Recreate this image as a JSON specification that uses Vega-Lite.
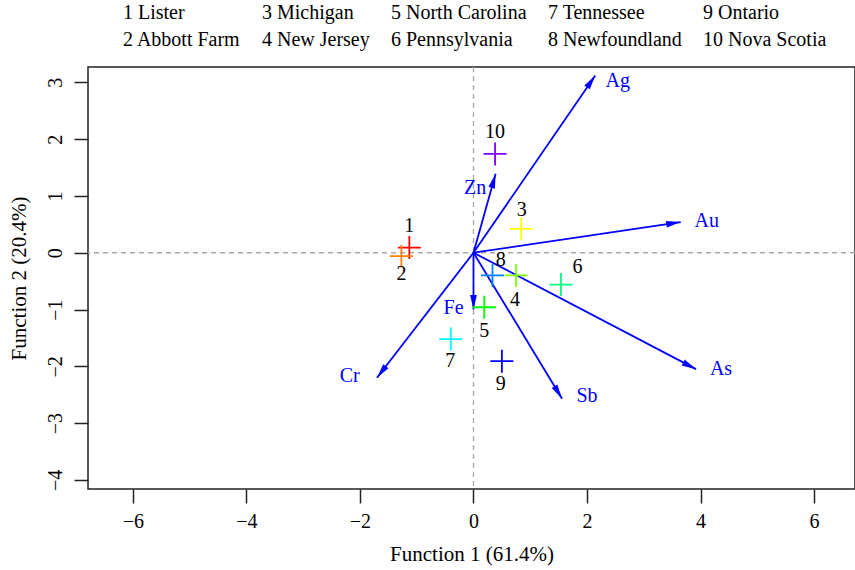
{
  "$schema": "https://vega.github.io/schema/vega-lite/v6.json",
  "width": 767,
  "height": 422,
  "autosize": {"type": "none"},
  "padding": {"left": 88, "top": 67, "right": 0, "bottom": 81},
  "background": "white",
  "config": {
    "view": {"stroke": "#222222", "strokeWidth": 1.5},
    "font": "Liberation Serif",
    "axis": {
      "domain": false, "grid": false,
      "tickColor": "#222222", "tickSize": 14, "tickWidth": 1.5,
      "labelFont": "Liberation Serif", "labelFontSize": 20, "labelColor": "black",
      "titleFont": "Liberation Serif", "titleFontSize": 21, "titleFontWeight": "normal", "titleColor": "black"
    }
  },
  "datasets": {
    "sites": [
      {"site": "1 Lister", "id": "1", "x": -1.13, "y": 0.09, "lx": -1.13, "ly": 0.47},
      {"site": "2 Abbott Farm", "id": "2", "x": -1.27, "y": -0.06, "lx": -1.27, "ly": -0.37},
      {"site": "3 Michigan", "id": "3", "x": 0.84, "y": 0.42, "lx": 0.85, "ly": 0.76},
      {"site": "4 New Jersey", "id": "4", "x": 0.75, "y": -0.40, "lx": 0.73, "ly": -0.83},
      {"site": "5 North Carolina", "id": "5", "x": 0.19, "y": -0.96, "lx": 0.19, "ly": -1.38},
      {"site": "6 Pennsylvania", "id": "6", "x": 1.54, "y": -0.56, "lx": 1.83, "ly": -0.245},
      {"site": "7 Tennessee", "id": "7", "x": -0.40, "y": -1.52, "lx": -0.41, "ly": -1.91},
      {"site": "8 Newfoundland", "id": "8", "x": 0.335, "y": -0.40, "lx": 0.48, "ly": -0.12},
      {"site": "9 Ontario", "id": "9", "x": 0.50, "y": -1.91, "lx": 0.48, "ly": -2.32},
      {"site": "10 Nova Scotia", "id": "10", "x": 0.38, "y": 1.74, "lx": 0.38, "ly": 2.13}
    ],
    "loadings": [
      {"el": "Ag", "x": 2.145, "y": 3.12, "lx": 2.54, "ly": 3.02},
      {"el": "Au", "x": 3.65, "y": 0.54, "lx": 4.11, "ly": 0.55},
      {"el": "As", "x": 3.92, "y": -2.05, "lx": 4.36, "ly": -2.05},
      {"el": "Sb", "x": 1.56, "y": -2.57, "lx": 2.0, "ly": -2.53},
      {"el": "Cr", "x": -1.70, "y": -2.20, "lx": -2.18, "ly": -2.17},
      {"el": "Fe", "x": 0.0, "y": -1.0, "lx": -0.35, "ly": -0.97},
      {"el": "Zn", "x": 0.39, "y": 1.39, "lx": 0.03, "ly": 1.14}
    ]
  },
  "layer": [
    {
      "data": {"values": [{}]},
      "mark": {"type": "rule", "color": "#a8a8a8", "strokeDash": [5, 4], "strokeWidth": 1.3},
      "encoding": {
        "y": {
          "datum": 0, "type": "quantitative",
          "scale": {"domain": [-4.16, 3.27], "nice": false, "zero": false},
          "axis": {"values": [-4, -3, -2, -1, 0, 1, 2, 3], "format": "d", "labelAngle": -90, "labelAlign": "center", "labelBaseline": "bottom", "labelPadding": 9, "titlePadding": 16},
          "title": "Function 2 (20.4%)"
        }
      }
    },
    {
      "data": {"values": [{}]},
      "mark": {"type": "rule", "color": "#a8a8a8", "strokeDash": [5, 4], "strokeWidth": 1.3},
      "encoding": {
        "x": {
          "datum": 0, "type": "quantitative",
          "scale": {"domain": [-6.79, 6.72], "nice": false, "zero": false},
          "axis": {"values": [-6, -4, -2, 0, 2, 4, 6], "format": "d", "labelPadding": 8, "titlePadding": 12},
          "title": "Function 1 (61.4%)"
        }
      }
    },
    {
      "data": {"name": "loadings"},
      "mark": {"type": "rule", "color": "#0000FF", "strokeWidth": 1.8},
      "encoding": {
        "x": {"field": "x", "type": "quantitative", "title": "Function 1 (61.4%)"},
        "y": {"field": "y", "type": "quantitative", "title": "Function 2 (20.4%)"},
        "x2": {"datum": 0},
        "y2": {"datum": 0}
      }
    },
    {
      "data": {"name": "loadings"},
      "transform": [{"calculate": "atan2(datum.x, datum.y) * 180 / PI", "as": "angle"}],
      "mark": {"type": "point", "shape": "M0,0L-0.23,1L0.23,1Z", "filled": true, "color": "#0000FF", "opacity": 1, "size": 841, "strokeWidth": 0},
      "encoding": {
        "x": {"field": "x", "type": "quantitative", "title": "Function 1 (61.4%)"},
        "y": {"field": "y", "type": "quantitative", "title": "Function 2 (20.4%)"},
        "angle": {"field": "angle", "type": "quantitative", "scale": null}
      }
    },
    {
      "data": {"name": "loadings"},
      "mark": {"type": "text", "color": "#0000FF", "fontSize": 20, "font": "Liberation Serif"},
      "encoding": {
        "x": {"field": "lx", "type": "quantitative", "title": "Function 1 (61.4%)"},
        "y": {"field": "ly", "type": "quantitative", "title": "Function 2 (20.4%)"},
        "text": {"field": "el"}
      }
    },
    {
      "data": {"name": "sites"},
      "mark": {"type": "point", "shape": "M-1,0L1,0M0,-1L0,1", "filled": false, "size": 529, "strokeWidth": 1.8, "opacity": 1},
      "encoding": {
        "x": {"field": "x", "type": "quantitative", "title": "Function 1 (61.4%)"},
        "y": {"field": "y", "type": "quantitative", "title": "Function 2 (20.4%)"},
        "color": {
          "field": "site", "type": "nominal",
          "scale": {
            "domain": ["1 Lister", "3 Michigan", "5 North Carolina", "7 Tennessee", "9 Ontario", "2 Abbott Farm", "4 New Jersey", "6 Pennsylvania", "8 Newfoundland", "10 Nova Scotia"],
            "range": ["#FF0000", "#FFFF00", "#00FF00", "#00FFFF", "#0000FF", "#FF8000", "#80FF00", "#00FF80", "#0080FF", "#8000FF"]
          },
          "legend": {
            "orient": "none", "legendX": 15, "legendY": -64,
            "direction": "horizontal", "columns": 5, "title": null,
            "symbolOpacity": 0, "symbolSize": 0, "symbolStrokeWidth": 0, "labelOffset": 0,
            "labelFont": "Liberation Serif", "labelFontSize": 20, "labelColor": "black",
            "columnPadding": 1, "rowPadding": 7, "labelLimit": 300
          }
        }
      }
    },
    {
      "data": {"name": "sites"},
      "mark": {"type": "text", "color": "black", "fontSize": 20, "font": "Liberation Serif"},
      "encoding": {
        "x": {"field": "lx", "type": "quantitative", "title": "Function 1 (61.4%)"},
        "y": {"field": "ly", "type": "quantitative", "title": "Function 2 (20.4%)"},
        "text": {"field": "id"}
      }
    }
  ]
}
